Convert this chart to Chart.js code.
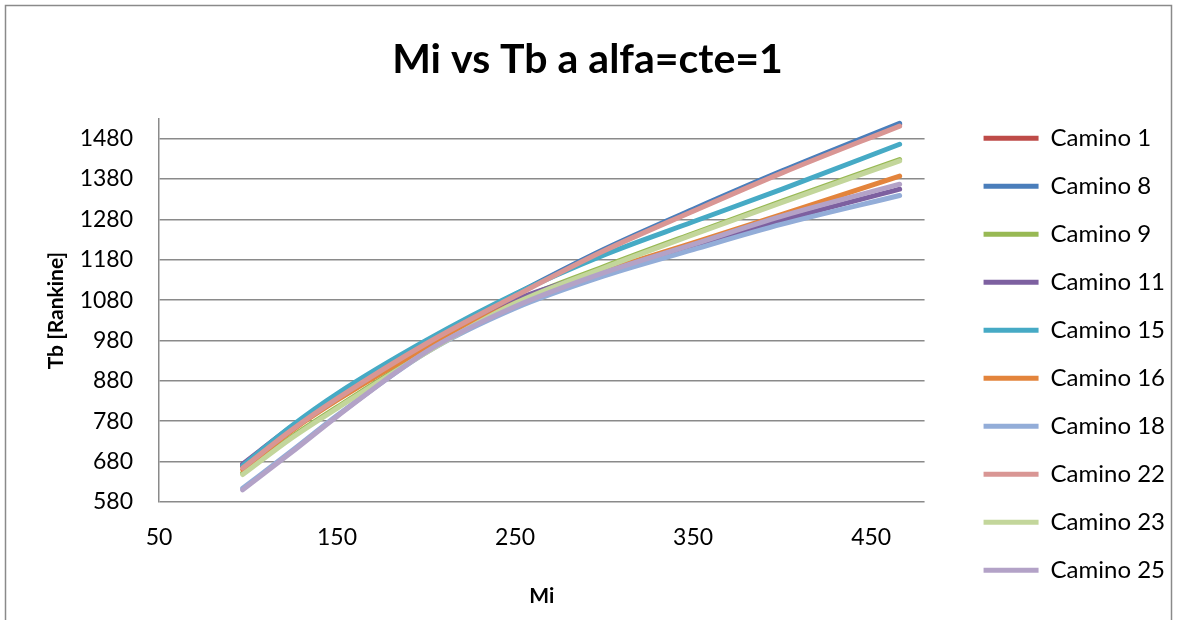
<!DOCTYPE html>
<html>
<head>
<meta charset="utf-8">
<title>Mi vs Tb</title>
<script src="https://cdn.jsdelivr.net/npm/chart.js@4.4.1/dist/chart.umd.min.js"></script>
<style>
  html, body { margin: 0; padding: 0; background: #fff; }
  #wrap { width: 1177px; height: 620px; }
</style>
</head>
<body>
<div id="wrap"><canvas id="tbChart" width="1177" height="620"></canvas></div>
<script>
// molecular weight (x) and boiling temperature per path (Rankine)
var mi = [97, 125, 150, 200, 250, 300, 350, 400, 466];

var camino1  = [668, 763, 839, 974, 1092, 1204, 1302, 1398, 1515];
var camino8  = [672, 766, 842, 976, 1094, 1206, 1305, 1400, 1518];
var camino9  = [652, 743, 815, 953, 1075, 1163, 1245, 1325, 1428];
var camino11 = [674, 768, 840, 966, 1080, 1152, 1215, 1278, 1355];
var camino15 = [670, 770, 848, 980, 1095, 1192, 1274, 1355, 1466];
var camino16 = [660, 758, 832, 962, 1072, 1152, 1222, 1292, 1387];
var camino18 = [614, 708, 794, 950, 1060, 1140, 1205, 1268, 1339];
var camino22 = [664, 760, 836, 972, 1090, 1202, 1300, 1395, 1511];
var camino23 = [648, 740, 812, 950, 1072, 1160, 1242, 1322, 1425];
var camino25 = [610, 705, 792, 952, 1064, 1148, 1218, 1288, 1367];

var names = ["Camino 1", "Camino 8", "Camino 9", "Camino 11", "Camino 15",
             "Camino 16", "Camino 18", "Camino 22", "Camino 23", "Camino 25"];
var series = [camino1, camino8, camino9, camino11, camino15,
              camino16, camino18, camino22, camino23, camino25];
var colors = ["#BE4B48", "#4A7EBB", "#98B954", "#7D60A0", "#46AAC5",
              "#E3843C", "#93ADD8", "#D99694", "#C3D69B", "#B3A2C7"];

var xTicks = [50, 150, 250, 350, 450];
var yTicks = [580, 680, 780, 880, 980, 1080, 1180, 1280, 1380, 1480];

var datasets = series.map(function (vals, i) {
    return {
        label: names[i],
        data: vals.map(function (v, j) { return { x: mi[j], y: v }; }),
        showLine: true,
        borderColor: colors[i],
        backgroundColor: colors[i],
        borderWidth: 5,
        borderCapStyle: 'round',
        borderJoinStyle: 'round',
        pointRadius: 0,
        pointHoverRadius: 0,
        cubicInterpolationMode: 'monotone',
        order: -i   // later paths painted on top
    };
});

// thin grey frame around the whole chart
var frame = {
    id: 'frame',
    beforeDraw: function (chart) {
        var c = chart.ctx;
        c.save();
        c.strokeStyle = '#8a8a8a';
        c.lineWidth = 1.5;
        c.beginPath();
        c.moveTo(5.5, chart.height + 5);
        c.lineTo(5.5, 5.5);
        c.lineTo(chart.width - 5.5, 5.5);
        c.lineTo(chart.width - 5.5, chart.height + 5);
        c.stroke();
        c.restore();
    }
};

var tickFont = { family: 'Lato', size: 23 };
var legendFont = { family: 'Lato', size: 24 };
var axisTitleFont = { family: 'Lato', size: 21, weight: 'bold' };
var plain = function (v) { return String(v); };

var ctx = document.getElementById("tbChart");

var tbChart = new Chart(ctx, {
    type: 'scatter',
    data: { datasets: datasets },
    plugins: [frame],
    options: {
        responsive: false,
        animation: false,
        layout: { padding: { left: 0, right: 2, top: 10, bottom: 10 } },
        plugins: {
            title: {
                display: true,
                text: 'Mi vs Tb a alfa=cte=1',
                color: '#000',
                font: { family: 'Lato', size: 41, weight: 'bold' },
                padding: { top: 25, bottom: 35 }
            },
            legend: {
                position: 'right',
                align: 'start',
                // empty title only pushes the entries down
                title: { display: true, text: '', font: { size: 1 }, padding: { top: 91, bottom: 0 } },
                labels: {
                    color: '#000',
                    font: legendFont,
                    usePointStyle: true,
                    pointStyle: 'line',
                    pointStyleWidth: 55,
                    padding: 24,
                    sort: function (a, b) { return a.datasetIndex - b.datasetIndex; }
                }
            },
            tooltip: { enabled: false }
        },
        scales: {
            x: {
                type: 'linear',
                min: 50,
                max: 480,
                afterBuildTicks: function (s) { s.ticks = xTicks.map(function (v) { return { value: v }; }); },
                afterFit: function (s) { s.height = 108; },
                ticks: { color: '#000', font: tickFont, padding: 22, callback: plain },
                grid: { display: false, drawTicks: false },
                border: { display: false },
                title: { display: true, text: 'Mi', color: '#000', font: axisTitleFont,
                         padding: { top: 30, bottom: 1 } }
            },
            y: {
                min: 580,
                max: 1528,
                afterBuildTicks: function (s) { s.ticks = yTicks.map(function (v) { return { value: v }; }); },
                afterFit: function (s) { s.width = 159; },
                ticks: { color: '#000', font: tickFont, padding: 26, callback: plain },
                grid: { color: '#8a8a8a', lineWidth: 1.5, drawTicks: false },
                border: { display: true, color: '#8a8a8a', width: 1.5 },
                title: { display: true, text: 'Tb [Rankine]', color: '#000', font: axisTitleFont,
                         padding: { top: 44, bottom: 0 } }
            },
            // hidden spacer between the plot and the legend
            gap: {
                type: 'linear',
                position: 'right',
                display: false,
                afterFit: function (s) { s.width = 35; }
            }
        }
    }
});
</script>
</body>
</html>
